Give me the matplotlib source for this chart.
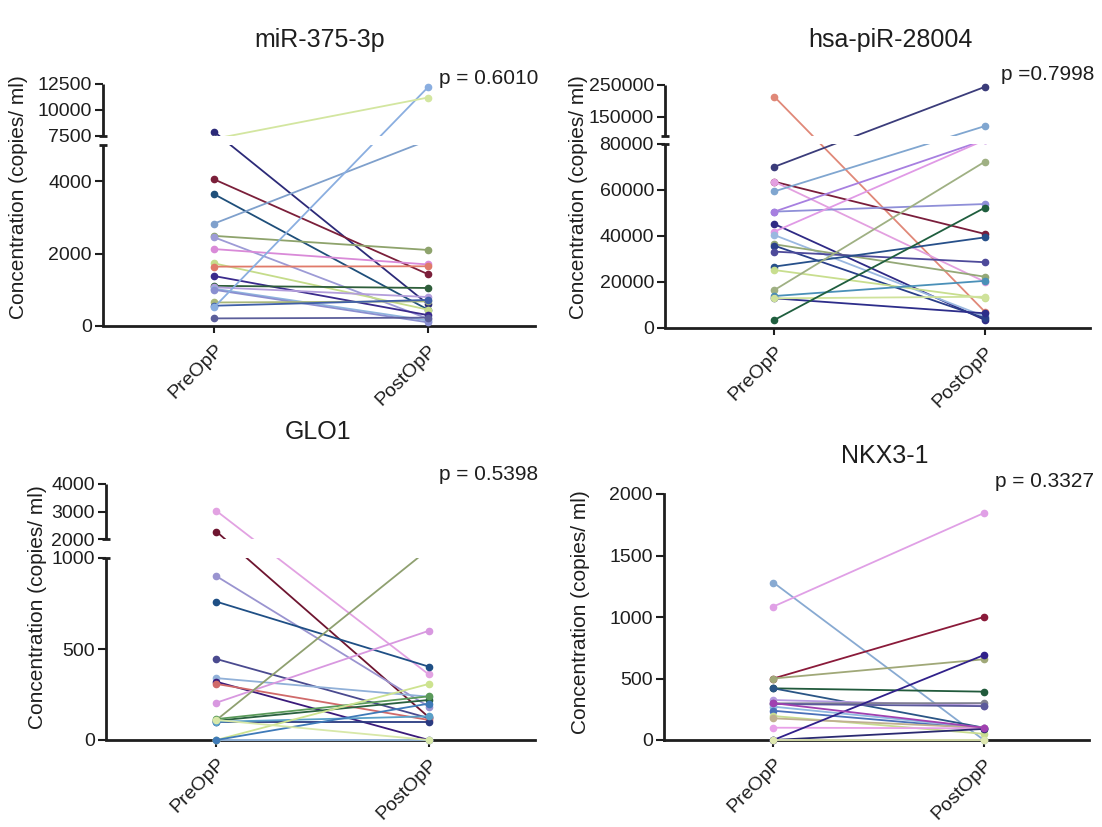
import matplotlib.pyplot as plt
import numpy as np
from matplotlib.transforms import blended_transform_factory

plt.rcParams['font.family'] = ['Liberation Sans', 'DejaVu Sans']

groups = ['PreOpP', 'PostOpP']
ylabel = 'Concentration (copies/ ml)'

# miR-375-3p
mir_pre = [7900, 4050, 3640, 2830, 2490, 2450, 2125, 1730, 1640, 1380,
           1110, 1070, 1030, 1000, 650, 560, 520, 210, 6700]
mir_post = [600, 1430, 450, 6300, 2100, 200, 1700, 450, 1650, 300,
            1050, 800, 150, 100, 680, 720, 12200, 230, 11200]
mir_colors = ['#2c2a78', '#7b1f3a', '#1f4f7a', '#7fa0cc', '#8ea36c', '#9d9bd6',
              '#d98ad8', '#c5dc8a', '#e07a6a', '#3a2a8c', '#2e5e3a', '#b39ddb',
              '#8fb4dd', '#8a8fd0', '#a9b77a', '#3f5fa8', '#8aaee0', '#5b5e9a',
              '#d3e6a0']

# hsa-piR-28004
pir_pre = [213000, 70100, 63600, 63600, 59400, 50600, 50600, 45200, 41900, 40400,
           36400, 35800, 33200, 26700, 25200, 16500, 13900, 12900, 12900, 3500]
pir_post = [7100, 244000, 40900, 20100, 121000, 53900, 85000, 3500, 85000, 5000,
            22300, 4300, 28600, 39400, 12900, 72300, 20500, 6400, 13600, 52300]
pir_colors = ['#e08878', '#3b3c7a', '#7a1e3c', '#e3a0e0', '#80a6d0', '#8f8fd8',
              '#a77fe0', '#2f2a85', '#e09ae6', '#9ab8e0', '#94a877', '#2a3f8a',
              '#4e4a9a', '#27508a', '#c8de8e', '#9fb083', '#4a90b8', '#2d2d8a',
              '#cfe29b', '#1f5e3e']

# GLO1
glo_pre = [3020, 2270, 900, 760, 445, 340, 320, 308, 205, 110,
           106, 115, 100, 100, 0, 0, 0, 110]
glo_post = [360, 125, 183, 403, 120, 238, 0, 110, 600, 1470,
            220, 240, 100, 130, 0, 308, 200, 0]
glo_colors = ['#e2a2e2', '#6e1530', '#9a94d0', '#1f4f85', '#4a4a8f', '#90b0d8',
              '#3a1a7a', '#d06a6a', '#d898e0', '#8fa070', '#2a6040', '#5a9a5a',
              '#2a3a80', '#5aa0c8', '#9dc0e8', '#cde38f', '#3f7ab8', '#d8e8a8']

# NKX3-1
nkx_pre = [1280, 1085, 500, 500, 420, 420, 325, 298, 293, 271,
           238, 195, 176, 100, 0, 0, 0, 300]
nkx_post = [0, 1845, 1000, 656, 393, 100, 280, 300, 275, 100,
            90, 50, 100, 95, 690, 90, 0, 100]
nkx_colors = ['#88aad2', '#e0a0e6', '#8a1a3a', '#a0a878', '#215a3c', '#2a5585',
              '#b59ae0', '#808090', '#5c5a9c', '#8fb8e0', '#4a70b8', '#c8dc90',
              '#c0b090', '#e8a0e8', '#30208a', '#2a2a70', '#dfe8b0', '#a040b0']

W, H = 1102, 827
ink = '#1e1e1e'


def px_rect(left, right, bottom, top):
    return [left / W, 1 - bottom / H, (right - left) / W, (bottom - top) / H]


def piecewise(data_pts, len_pts):
    # piecewise-linear y mapping used for the broken axes
    d = np.array(data_pts, float)
    p = np.array(len_pts, float)
    s0 = (p[1] - p[0]) / (d[1] - d[0])
    s1 = (p[-1] - p[-2]) / (d[-1] - d[-2])
    d = np.concatenate([[d[0] - 1e9], d, [d[-1] + 1e9]])
    p = np.concatenate([[p[0] - 1e9 * s0], p, [p[-1] + 1e9 * s1]])
    return (lambda y: np.interp(y, d, p)), (lambda v: np.interp(v, p, d))


def draw_panel(rect, pre, post, colors, yticks, ytop, brk=None, seg=None):
    ax = fig.add_axes(rect)
    if seg is not None:
        ax.set_yscale('function', functions=piecewise(*seg))
    for a, b, c in zip(pre, post, colors):
        ax.plot([0, 1], [a, b], color=c, lw=1.3, marker='o', ms=4.5,
                clip_on=False, zorder=3)
    ax.set_xlim(-0.52, 1.5)
    ax.set_ylim(0, ytop)
    ax.set_xticks([0, 1])
    ax.set_xticklabels(groups, rotation=45, ha='right', va='top',
                       rotation_mode='anchor')
    ax.set_yticks(yticks)
    ax.set_yticklabels([str(t) for t in yticks])
    ax.tick_params(axis='y', direction='out', length=6, width=1.5, colors=ink,
                   labelsize=14, pad=2)
    ax.tick_params(axis='x', direction='out', length=5, width=1.5, colors=ink,
                   labelsize=14, pad=6)
    ax.spines['top'].set_visible(False)
    ax.spines['right'].set_visible(False)
    ax.spines['bottom'].set_linewidth(2)
    ax.spines['bottom'].set_color(ink)
    ax.spines['left'].set_linewidth(2)
    ax.spines['left'].set_color(ink)
    if brk is not None:
        lo, hi = brk
        ax.spines['left'].set_visible(False)
        ax.axhspan(lo, hi, color='white', lw=0, zorder=4)
        tr = blended_transform_factory(ax.transAxes, ax.transData)
        for y0, y1 in [(0, lo), (hi, ytop)]:
            ax.plot([0, 0], [y0, y1], transform=tr, color=ink, lw=2,
                    clip_on=False, zorder=6, solid_capstyle='butt')
        for y in (lo, hi):
            ax.plot([-0.01, 0.01], [y, y], transform=tr, color=ink, lw=2,
                    clip_on=False, zorder=6, solid_capstyle='butt')
    return ax


def fig_text(x, y, s, **kw):
    fig.text(x / W, 1 - y / H, s, **kw)


fig = plt.figure(figsize=(11.02, 8.27), dpi=100)

draw_panel(px_rect(103, 535, 326, 84), mir_pre, mir_post, mir_colors,
           [0, 2000, 4000, 7500, 10000, 12500], 12500, brk=(5000, 7500),
           seg=([0, 5000, 7500, 12500], [0, 181, 190, 242]))
draw_panel(px_rect(665, 1090, 328, 85), pir_pre, pir_post, pir_colors,
           [0, 20000, 40000, 60000, 80000, 150000, 250000], 250000,
           brk=(80000, 90000),
           seg=([0, 80000, 90000, 250000], [0, 184, 192, 243]))
draw_panel(px_rect(106, 535, 740, 484), glo_pre, glo_post, glo_colors,
           [0, 500, 1000, 2000, 3000, 4000], 4000, brk=(1000, 2000),
           seg=([0, 1000, 2000, 4000], [0, 182, 201, 256]))
draw_panel(px_rect(664, 1089, 740, 494), nkx_pre, nkx_post, nkx_colors,
           [0, 500, 1000, 1500, 2000], 2000)

title_kw = dict(fontsize=18, ha='center', va='center', color=ink)
fig_text(320, 40, 'miR-375-3p', **title_kw)
fig_text(890, 40, 'hsa-piR-28004', **title_kw)
fig_text(318, 432, 'GLO1', **title_kw)
fig_text(885, 456, 'NKX3-1', **title_kw)

p_kw = dict(fontsize=15, ha='left', va='center', color=ink)
fig_text(439, 78, 'p = 0.6010', **p_kw)
fig_text(1001, 75, 'p =0.7998', **p_kw)
fig_text(439, 475, 'p = 0.5398', **p_kw)
fig_text(995, 482, 'p = 0.3327', **p_kw)

lab_kw = dict(fontsize=15, ha='center', va='center', rotation=90, color=ink)
fig_text(19, 197, ylabel, **lab_kw)
fig_text(578, 197, ylabel, **lab_kw)
fig_text(38, 607, ylabel, **lab_kw)
fig_text(580, 612, ylabel, **lab_kw)

fig.savefig('out.png', dpi=100, facecolor='white')
